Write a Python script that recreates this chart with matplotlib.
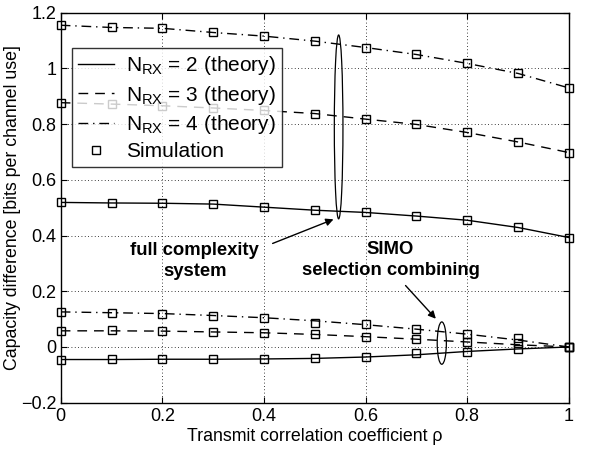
import matplotlib
matplotlib.use("Agg")
import matplotlib.pyplot as plt
from matplotlib.patches import Ellipse

plt.rcParams['font.family'] = ['Liberation Sans', 'DejaVu Sans']
plt.rcParams['mathtext.fontset'] = 'custom'
plt.rcParams['mathtext.rm'] = 'Liberation Sans'
plt.rcParams['mathtext.it'] = 'Liberation Sans'

rho = [0.0, 0.1, 0.2, 0.3, 0.4, 0.5, 0.6, 0.7, 0.8, 0.9, 1.0]

# full complexity system (theory and simulation coincide)
full_n2 = [0.519, 0.517, 0.516, 0.513, 0.502, 0.491, 0.483, 0.470, 0.455, 0.429, 0.393]
full_n3 = [0.877, 0.872, 0.866, 0.858, 0.849, 0.838, 0.818, 0.799, 0.770, 0.736, 0.698]
full_n4 = [1.155, 1.147, 1.144, 1.129, 1.116, 1.098, 1.075, 1.050, 1.018, 0.982, 0.930]

# SIMO selection combining, theory
sc_n2 = [-0.045, -0.045, -0.044, -0.044, -0.043, -0.041, -0.036, -0.028, -0.016, -0.007, 0.0]
sc_n3 = [0.058, 0.058, 0.057, 0.054, 0.051, 0.045, 0.037, 0.028, 0.018, 0.008, 0.0]
sc_n4 = [0.126, 0.123, 0.120, 0.113, 0.105, 0.094, 0.080, 0.064, 0.046, 0.025, 0.0]

# SIMO selection combining, simulation
sim_n2 = [-0.045, -0.044, -0.044, -0.043, -0.043, -0.040, -0.037, -0.021, -0.018, -0.009, 0.0]
sim_n3 = [0.058, 0.060, 0.057, 0.053, 0.051, 0.045, 0.036, 0.030, 0.018, 0.014, 0.0]
sim_n4 = [0.126, 0.122, 0.120, 0.112, 0.105, 0.087, 0.081, 0.063, 0.048, 0.032, 0.0]

labels = ["N$_{RX}$ = 2 (theory)", "N$_{RX}$ = 3 (theory)", "N$_{RX}$ = 4 (theory)", "Simulation"]

fig = plt.figure(figsize=(5.95, 4.54), dpi=100)
ax = fig.add_axes([0.102, 0.113, 0.854, 0.859])

lw = 1.0
dash = (0, (7, 5))
dashdot = (0, (7, 3.5, 1, 3.5))
l2, = ax.plot(rho, full_n2, color='black', lw=lw, ls='-')
l3, = ax.plot(rho, full_n3, color='black', lw=lw, ls=dash)
l4, = ax.plot(rho, full_n4, color='black', lw=lw, ls=dashdot)
ax.plot(rho, sc_n2, color='black', lw=lw, ls='-')
ax.plot(rho, sc_n3, color='black', lw=lw, ls=dash)
ax.plot(rho, sc_n4, color='black', lw=lw, ls=dashdot)

ms = dict(ls='none', marker='s', ms=5.3, mfc='none', mec='black', mew=1.0, clip_on=False)
sim, = ax.plot(rho, full_n2, **ms)
for ys in [full_n3, full_n4, sim_n2, sim_n3, sim_n4]:
    ax.plot(rho, ys, **ms)

ax.add_patch(Ellipse((0.547, 0.79), 0.017, 0.66, fill=False, ec='black', lw=0.9))
ax.add_patch(Ellipse((0.75, 0.014), 0.018, 0.152, fill=False, ec='black', lw=0.9))

ax.annotate("", xy=(0.542, 0.462), xytext=(0.412, 0.368),
            arrowprops=dict(arrowstyle='-|>', color='black', lw=1.0, mutation_scale=11))
ax.annotate("", xy=(0.742, 0.094), xytext=(0.675, 0.228),
            arrowprops=dict(arrowstyle='-|>', color='black', lw=1.0, mutation_scale=11))

ax.text(0.264, 0.308, "full complexity\nsystem", ha='center', va='center',
        fontsize=13.3, fontweight='bold', linespacing=1.3)
ax.text(0.649, 0.312, "SIMO\nselection combining", ha='center', va='center',
        fontsize=13.3, fontweight='bold', linespacing=1.3)

ax.set_xlim(0, 1)
ax.set_ylim(-0.2, 1.2)
ax.set_xticks([0, 0.2, 0.4, 0.6, 0.8, 1])
ax.set_xticklabels(["0", "0.2", "0.4", "0.6", "0.8", "1"])
ax.set_yticks([-0.2, 0, 0.2, 0.4, 0.6, 0.8, 1, 1.2])
ax.set_yticklabels(["\u22120.2", "0", "0.2", "0.4", "0.6", "0.8", "1", "1.2"])
ax.tick_params(direction='in', top=True, right=True, labelsize=13, length=4)
ax.tick_params(axis='x', pad=4)
ax.tick_params(axis='y', pad=3)
ax.grid(True, ls=(0, (1, 3)), color='black', lw=0.6)
for s in ax.spines.values():
    s.set_linewidth(1.0)

ax.set_xlabel("Transmit correlation coefficient \u03c1", fontsize=12.8, labelpad=2)
ax.set_ylabel("Capacity difference [bits per channel use]", fontsize=12.8, labelpad=0)

leg = ax.legend([l2, l3, l4, sim], labels, loc='upper left', bbox_to_anchor=(0.022, 0.909),
                fontsize=15, frameon=True, fancybox=False, edgecolor='black',
                handlelength=1.7, borderpad=0.3, labelspacing=0.3, handletextpad=0.6,
                borderaxespad=0)
leg.get_frame().set_linewidth(1.0)

plt.savefig("out.png", dpi=100)
